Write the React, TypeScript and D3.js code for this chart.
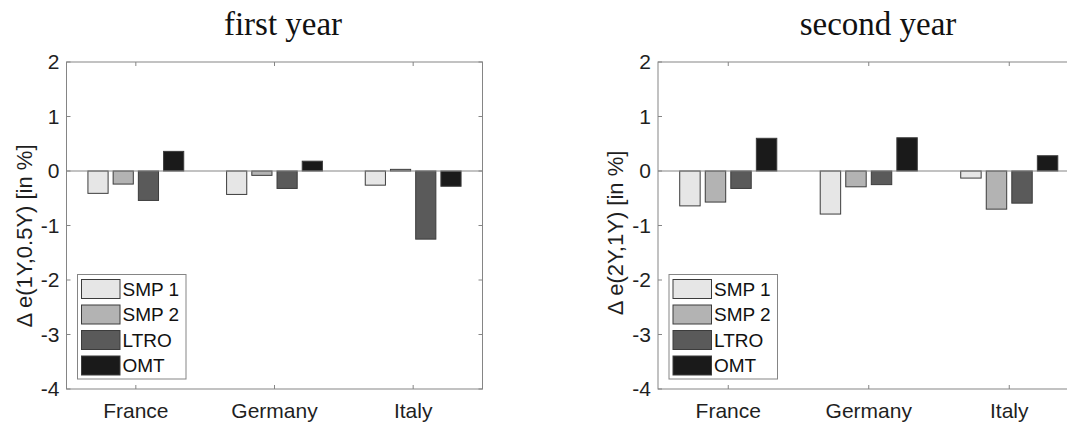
import React from "react";
import * as d3 from "d3";

const categories = ["France", "Germany", "Italy"];
const seriesNames = ["SMP 1", "SMP 2", "LTRO", "OMT"];
const seriesColors = ["#e6e6e6", "#b3b3b3", "#5a5a5a", "#1a1a1a"];
const yTicks = [-4, -3, -2, -1, 0, 1, 2];

// values by series, one value per country
const firstYearSMP1 = [-0.41, -0.43, -0.26];
const firstYearSMP2 = [-0.24, -0.08, 0.03];
const firstYearLTRO = [-0.54, -0.32, -1.25];
const firstYearOMT = [0.36, 0.18, -0.28];

const secondYearSMP1 = [-0.64, -0.79, -0.13];
const secondYearSMP2 = [-0.57, -0.29, -0.7];
const secondYearLTRO = [-0.32, -0.25, -0.59];
const secondYearOMT = [0.6, 0.61, 0.28];

const panels = [
  {
    title: "first year",
    ylabel: "\u0394 e(1Y,0.5Y) [in %]",
    series: [firstYearSMP1, firstYearSMP2, firstYearLTRO, firstYearOMT],
    left: 66.5, right: 482.5, top: 62, bottom: 389,
    titleX: 283, labelX: 32, labelY: 236,
  },
  {
    title: "second year",
    ylabel: "\u0394 e(2Y,1Y) [in %]",
    series: [secondYearSMP1, secondYearSMP2, secondYearLTRO, secondYearOMT],
    left: 658, right: 1079.5, top: 62, bottom: 389,
    titleX: 878, labelX: 623, labelY: 233,
  },
];

const axisColor = "#858585";
const textColor = "#1f1f1f";
const sans = "Arial, 'Liberation Sans', Helvetica, sans-serif";

function Panel({ p }: { p: any }) {
  const x = d3.scaleBand().domain(categories).range([p.left, p.right]).padding(0);
  const y = d3.scaleLinear().domain([-4, 2]).range([p.bottom, p.top]);
  const groupW = x.bandwidth() * (4 / 5.5);
  const inner = d3
    .scaleBand()
    .domain(seriesNames)
    .range([-groupW / 2, groupW / 2])
    .paddingInner(0.2)
    .paddingOuter(0.1);
  const tl = 4;
  const legX = p.left + 11;
  const legY = 274.5;
  const rowH = 25.5;
  return (
    <g>
      <text
        x={p.titleX}
        y={35}
        textAnchor="middle"
        fontFamily="'Liberation Serif', 'Times New Roman', serif"
        fontSize={33}
        fill="#111"
      >
        {p.title}
      </text>
      {/* bars */}
      {p.series.map((vals: number[], si: number) =>
        vals.map((v, ci) => {
          const cx = (x(categories[ci]) as number) + x.bandwidth() / 2;
          const bx = cx + (inner(seriesNames[si]) as number);
          const y0 = y(0);
          const y1 = y(v);
          return (
            <rect
              key={`${si}-${ci}`}
              x={bx}
              y={Math.min(y0, y1)}
              width={inner.bandwidth()}
              height={Math.abs(y1 - y0)}
              fill={seriesColors[si]}
              stroke="#3c3c3c"
              strokeWidth={1}
            />
          );
        })
      )}
      {/* zero baseline */}
      <line x1={p.left} x2={p.right} y1={y(0)} y2={y(0)} stroke={axisColor} strokeWidth={1} />
      {/* frame */}
      <rect
        x={p.left}
        y={p.top}
        width={p.right - p.left}
        height={p.bottom - p.top}
        fill="none"
        stroke={axisColor}
        strokeWidth={1}
      />
      {/* y ticks */}
      {yTicks.map((t) => (
        <g key={t}>
          <line x1={p.left} x2={p.left + tl} y1={y(t)} y2={y(t)} stroke={axisColor} />
          <line x1={p.right} x2={p.right - tl} y1={y(t)} y2={y(t)} stroke={axisColor} />
          <text
            x={p.left - 7}
            y={y(t)}
            dy="0.35em"
            textAnchor="end"
            fontFamily={sans}
            fontSize={21}
            fill={textColor}
          >
            {t}
          </text>
        </g>
      ))}
      {/* x ticks */}
      {categories.map((c) => {
        const cx = (x(c) as number) + x.bandwidth() / 2;
        return (
          <g key={c}>
            <line x1={cx} x2={cx} y1={p.bottom} y2={p.bottom - tl} stroke={axisColor} />
            <line x1={cx} x2={cx} y1={p.top} y2={p.top + tl} stroke={axisColor} />
            <text
              x={cx}
              y={418}
              textAnchor="middle"
              fontFamily={sans}
              fontSize={21}
              fill={textColor}
            >
              {c}
            </text>
          </g>
        );
      })}
      {/* y label */}
      <text
        transform={`translate(${p.labelX},${p.labelY}) rotate(-90)`}
        textAnchor="middle"
        fontFamily={sans}
        fontSize={22}
        fill={textColor}
      >
        {p.ylabel}
      </text>
      {/* legend */}
      <rect x={legX} y={legY} width={108.5} height={104.5} fill="#fff" stroke={axisColor} />
      {seriesNames.map((s, i) => (
        <g key={s}>
          <rect
            x={legX + 4}
            y={legY + 5 + i * rowH}
            width={38.5}
            height={19}
            fill={seriesColors[i]}
            stroke="#3c3c3c"
          />
          <text
            x={legX + 45}
            y={legY + 5 + i * rowH + 9.5}
            dy="0.36em"
            fontFamily={sans}
            fontSize={19}
            fill="#111"
          >
            {s}
          </text>
        </g>
      ))}
    </g>
  );
}

export default function App() {
  return (
    <svg
      width={1067}
      height={426}
      style={{ position: "absolute", left: 0, top: 0, background: "#fff" }}
    >
      <rect x={0} y={0} width={1067} height={426} fill="#fff" />
      {panels.map((p) => (
        <Panel key={p.title} p={p} />
      ))}
    </svg>
  );
}
